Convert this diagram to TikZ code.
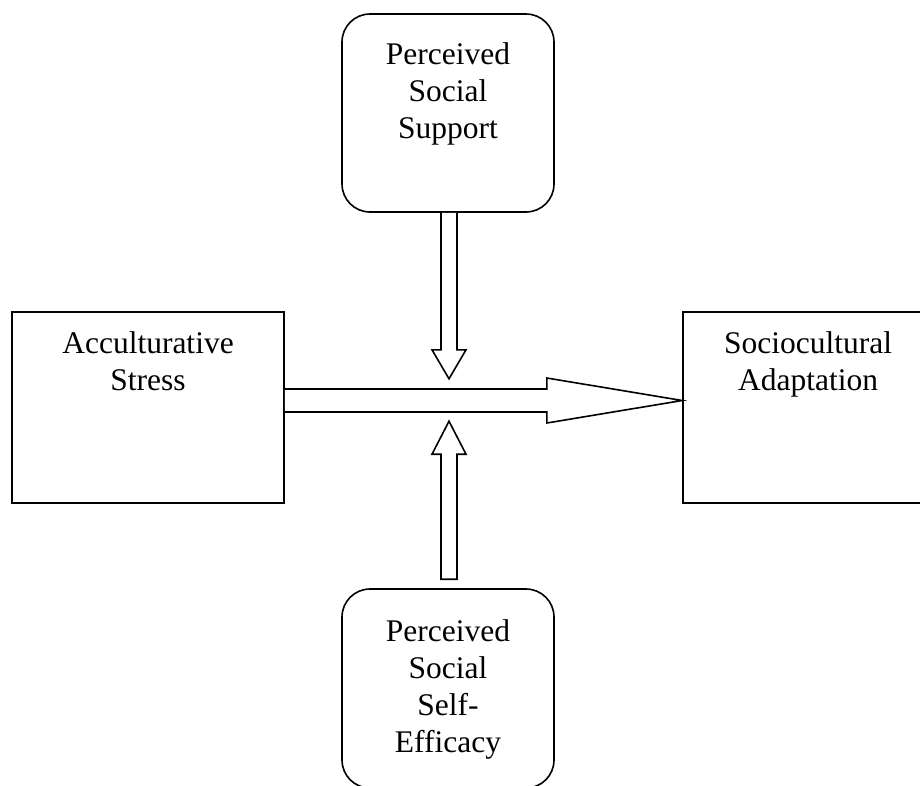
\documentclass[tikz,border=0pt]{standalone}
\usepackage{fontspec}
\setmainfont{Liberation Serif}
\usetikzlibrary{calc}
\begin{document}
\begin{tikzpicture}[x=1pt,y=-1pt,
  line width=1.6pt,
  boxshape/.style={draw,inner sep=0pt,minimum width=#1},
  roundbox/.style={draw,inner sep=0pt,rounded corners=28pt,minimum width=212pt},
  boxtext/.style={inner sep=0pt,align=center,anchor=north,font=\fontsize{31.5}{37}\selectfont},
  blockarrow/.style={draw,fill=white,line join=miter}]
\useasboundingbox (0,0) rectangle (920,785);
\clip (0,0) rectangle (920,785);
% boxes
\node[roundbox,minimum height=198pt] (pss) at (448,113) {};
\node[roundbox,minimum height=199pt] (psse) at (448,688.5) {};
\node[boxshape=272pt,minimum height=191pt] (as) at (148,407.5) {};
\node[boxshape=272pt,minimum height=191pt] (sa) at (819,407.5) {};
% texts (north = first baseline minus ascender height)
\node[boxtext] (t1) at (448,41.5) {Perceived\\Social\\Support};
\node[boxtext] (t2) at (448,618.5) {Perceived\\Social\\Self-\\Efficacy};
\node[boxtext] (t3) at (148,330.5) {Acculturative\\Stress};
\node[boxtext] (t4) at (808,330.5) {Sociocultural\\Adaptation};
% horizontal block arrow
\draw[blockarrow] ($(as.east)+(0,-18.5)$) -- ($(as.east)+(262,-18.5)$)
  -- ($(as.east)+(262,-29.5)$) -- ($(sa.west)+(0,-7)$)
  -- ($(as.east)+(262,15.5)$) -- ($(as.east)+(262,4.5)$)
  -- ($(as.east)+(0,4.5)$);
% down block arrow
\draw[blockarrow] ($(pss.south)+(-7,0)$) -- ($(pss.south)+(-7,137)$)
  -- ($(pss.south)+(-16,137)$) -- ($(pss.south)+(1,166)$)
  -- ($(pss.south)+(18,137)$) -- ($(pss.south)+(9,137)$)
  -- ($(pss.south)+(9,0)$);
% up block arrow
\draw[blockarrow] ($(psse.north)+(-7,-9)$) -- ($(psse.north)+(-7,-134)$)
  -- ($(psse.north)+(-16,-134)$) -- ($(psse.north)+(1,-167)$)
  -- ($(psse.north)+(18,-134)$) -- ($(psse.north)+(9,-134)$)
  -- ($(psse.north)+(9,-9)$) -- cycle;
\end{tikzpicture}
\end{document}
